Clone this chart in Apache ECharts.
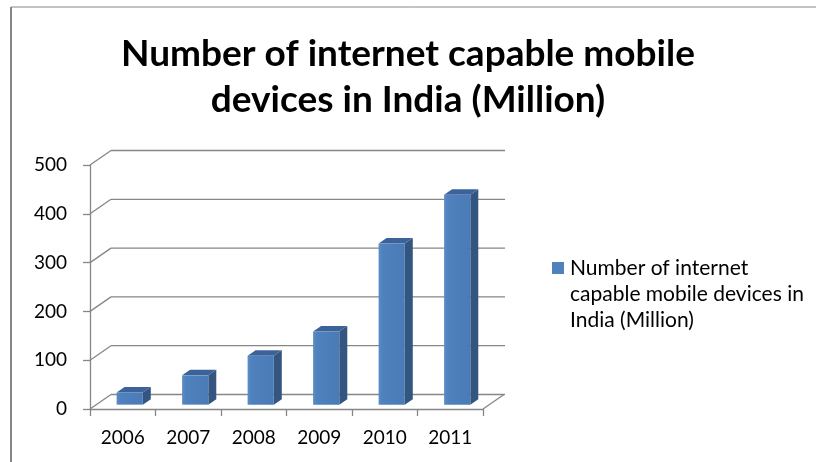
<!DOCTYPE html>
<html>
<head>
<meta charset="utf-8">
<script src="https://cdn.jsdelivr.net/npm/echarts@6/dist/echarts.min.js"></script>
<style>
  html, body { margin: 0; padding: 0; background: #ffffff; }
  #chart { width: 816px; height: 462px; }
</style>
</head>
<body>
<div id="chart"></div>
<script>
// Chart data
const years = ['2006', '2007', '2008', '2009', '2010', '2011'];
const devices = [25, 60, 100, 150, 330, 430];
const valueTicks = [0, 100, 200, 300, 400, 500];
const seriesName = 'Number of internet capable mobile devices in India (Million)';
const legendLabel = 'Number of internet\ncapable mobile devices in\nIndia (Million)';
const titleText = 'Number of internet capable mobile\ndevices in India (Million)';

const FONT = 'Lato, "Open Sans", sans-serif';
const AXIS_GREY = '#868686';
const BAR_BLUE = '#4F81BD';

// Depth of the pseudo-3D box: back wall offset from the front plane
const WALL_DX = 21, WALL_DY = -14.5;
// Column placement inside that depth (fractions of the wall offset)
const BAR_FRONT = 0.3, BAR_DEPTH = 0.38;

const chart = echarts.init(document.getElementById('chart'), null, { renderer: 'canvas' });

// Back-wall gridlines plus the oblique connectors to the front axis
function renderWalls(params, api) {
  const cs = params.coordSys;
  const v = api.value(1);
  const y = api.coord([0, v])[1];
  const x0 = cs.x, x1 = cs.x + cs.width;
  const style = { stroke: AXIS_GREY, lineWidth: 1.3 };
  const children = [
    { type: 'line', shape: { x1: x0, y1: y, x2: x0 + WALL_DX, y2: y + WALL_DY }, style },
    { type: 'line', shape: { x1: x0 + WALL_DX, y1: y + WALL_DY, x2: x1 + WALL_DX + 1, y2: y + WALL_DY }, style }
  ];
  if (v === 0) {
    children.push({ type: 'line', shape: { x1: x1, y1: y, x2: x1 + WALL_DX, y2: y + WALL_DY }, style });
  }
  return { type: 'group', children };
}

// 3D-looking column: front face, right side and top
function renderColumn(params, api) {
  const i = api.value(0);
  const v = api.value(1);
  const top = api.coord([i, v]);
  const base = api.coord([i, 0]);
  const band = api.size([1, 0])[0];
  const w = band * 0.4;
  const ox = WALL_DX * BAR_FRONT + band * 0.01, oy = WALL_DY * BAR_FRONT;
  const ddx = WALL_DX * BAR_DEPTH, ddy = WALL_DY * BAR_DEPTH;
  const xl = top[0] - w / 2 + ox, xr = xl + w;
  const yt = top[1] + oy, yb = base[1] + oy;
  return {
    type: 'group',
    children: [
      { type: 'polygon', shape: { points: [[xr, yb], [xr + ddx, yb + ddy], [xr + ddx, yt + ddy], [xr, yt]] },
        style: { fill: '#34557F' } },
      { type: 'polygon', shape: { points: [[xl, yt], [xr, yt], [xr + ddx, yt + ddy], [xl + ddx, yt + ddy]] },
        style: { fill: '#3C6399' } },
      { type: 'rect', shape: { x: xl, y: yt, width: w, height: yb - yt },
        style: { fill: new echarts.graphic.LinearGradient(0, 0, 1, 0, [
          { offset: 0, color: '#5B8CC6' }, { offset: 0.15, color: BAR_BLUE }, { offset: 1, color: '#4A7BB6' }
        ]) } }
    ]
  };
}

const option = {
  backgroundColor: '#ffffff',
  animation: false,
  title: {
    text: titleText,
    left: 'center',
    top: 26,
    textStyle: { fontFamily: FONT, fontWeight: 'bold', fontSize: 37, lineHeight: 46, color: '#000000' }
  },
  grid: { left: 90, top: 165, width: 393, height: 244 },
  xAxis: {
    type: 'category',
    data: years,
    boundaryGap: true,
    axisLine: { show: true, lineStyle: { color: AXIS_GREY, width: 1.3 } },
    axisTick: { show: true, length: 7, lineStyle: { color: AXIS_GREY, width: 1.3 } },
    axisLabel: { fontFamily: FONT, fontSize: 19, color: '#000000', margin: 19 },
    splitLine: { show: false }
  },
  yAxis: {
    type: 'value',
    min: 0,
    max: 500,
    interval: 100,
    axisLine: { show: true, lineStyle: { color: AXIS_GREY, width: 1.3 } },
    axisTick: { show: true, length: 7, lineStyle: { color: AXIS_GREY, width: 1.3 } },
    axisLabel: { fontFamily: FONT, fontSize: 19, color: '#000000', margin: 23 },
    splitLine: { show: false }
  },
  graphic: [
    // chart-area border
    { type: 'line', shape: { x1: 11, y1: 7, x2: 816, y2: 7 }, style: { stroke: AXIS_GREY, lineWidth: 1 }, silent: true },
    { type: 'line', shape: { x1: 11, y1: 7, x2: 11, y2: 462 }, style: { stroke: AXIS_GREY, lineWidth: 2 }, silent: true },
    // legend: swatch aligned with the first line of the wrapped series name
    {
      type: 'group', left: 552, top: 255, silent: true,
      children: [
        { type: 'rect', shape: { x: 0, y: 7, width: 12, height: 12 }, style: { fill: BAR_BLUE } },
        { type: 'text', x: 18, y: 0,
          style: { text: legendLabel, fontFamily: FONT, fontSize: 21, lineHeight: 26, fill: '#000000',
                   verticalAlign: 'top', align: 'left' } }
      ]
    }
  ],
  series: [
    {
      name: 'walls',
      type: 'custom',
      renderItem: renderWalls,
      data: valueTicks.map(v => [0, v]),
      silent: true,
      z: 1
    },
    {
      name: seriesName,
      type: 'custom',
      renderItem: renderColumn,
      data: devices.map((v, i) => [i, v]),
      itemStyle: { color: BAR_BLUE },
      z: 3
    }
  ]
};

chart.setOption(option);
</script>
</body>
</html>
